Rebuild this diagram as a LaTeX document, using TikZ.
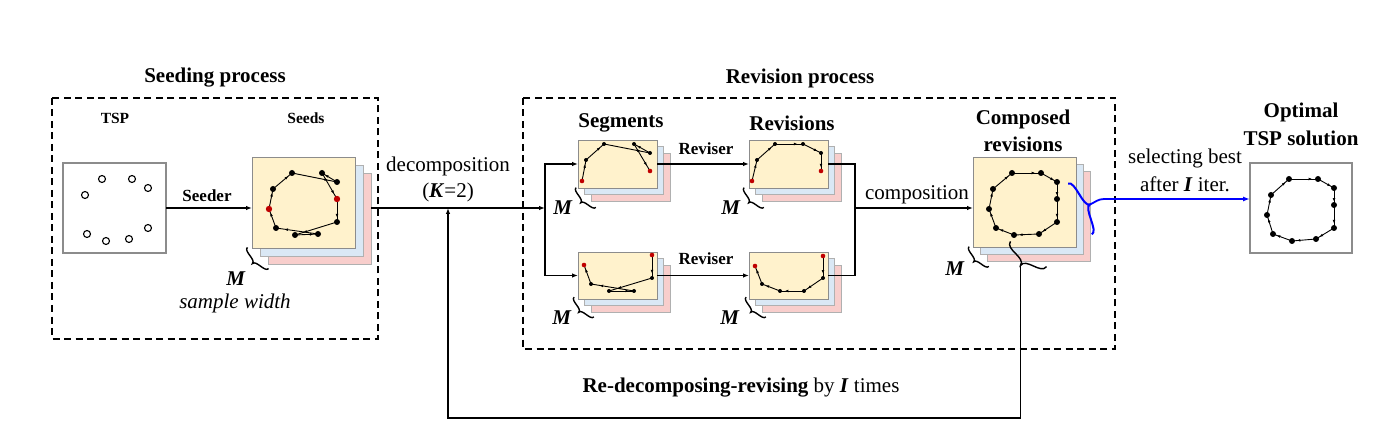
\documentclass[tikz,border=0pt]{standalone}
\usepackage{fontspec}
\setmainfont{Liberation Serif}
\usetikzlibrary{arrows.meta,decorations.markings}
\definecolor{yelc}{HTML}{FFF2CC}
\definecolor{bluec}{HTML}{DAE8F5}
\definecolor{pinkc}{HTML}{F8CECC}
\definecolor{redc}{HTML}{C00000}
\definecolor{framec}{HTML}{8C8C8C}
\definecolor{backframe}{HTML}{B0B0B0}
\tikzset{
 dbox/.style={draw=black, line width=1.6pt, dash pattern=on 7pt off 4.5pt},
 sbox/.style={draw=#1, line width=0.9pt, inner sep=0pt, outer sep=0pt, rectangle},
 wbox/.style={draw=framec, line width=1.1pt, fill=white, inner sep=0pt, outer sep=0pt, rectangle},
 arr/.style={line width=1.1pt, -{Latex[length=6pt,width=4.5pt]}},
 ln/.style={line width=1.1pt},
 te/.style={line width=0.9pt, postaction={decorate, decoration={markings, mark=at position 0.8 with {\arrow{Latex[length=3.5pt,width=2.8pt]}}}}},
 ttl/.style={font=\fontsize{21}{24}\selectfont\bfseries, inner sep=0pt},
 txt/.style={font=\fontsize{21}{24}\selectfont, inner sep=0pt},
 smb/.style={font=\fontsize{15.5}{18}\selectfont\bfseries, inner sep=0pt},
 mdb/.style={font=\fontsize{17}{20}\selectfont\bfseries, inner sep=0pt},
}
\newcommand\stackbox[6]{%
 \node[sbox=backframe, fill=pinkc, minimum width=#4pt, minimum height=#5pt] (#1p) at ({#2+2*#6+#4/2},{#3+2*#6+#5/2}) {};
 \node[sbox=backframe, fill=bluec, minimum width=#4pt, minimum height=#5pt] (#1b) at ({#2+#6+#4/2},{#3+#6+#5/2}) {};
 \node[sbox=framec, fill=yelc, minimum width=#4pt, minimum height=#5pt] (#1) at ({#2+#4/2},{#3+#5/2}) {};
}
% curly brace: [style] centre x, centre y, rotation, half length, amplitude
\newcommand\curlyb[6][line width=1.4pt]{%
 \begin{scope}[shift={(#2,#3)},x=1pt,y=1pt,rotate=#4]
 \draw[#1] (0,#5) .. controls ({-0.7*#6},#5) and ({-0.3*#6},0) .. ({-#6},0)
   .. controls ({-0.3*#6},0) and ({-0.7*#6},-#5) .. (0,-#5);
 \end{scope}}
\newcommand\bd[1]{\fill #1 circle (3pt);}
\newcommand\sd[1]{\fill #1 circle (2pt);}
\newcommand\rd[1]{\fill[redc] #1 circle (2.3pt);}
\newcommand\rbd[1]{\fill[redc] #1 circle (3.2pt);}
\begin{document}
\begin{tikzpicture}[x=1pt,y=-1pt]
\useasboundingbox (0,0) rectangle (1392,446);

% dashed frames
\draw[dbox] (52,98) rectangle (378,339);
\draw[dbox] (523,98) rectangle (1115,349);
\node[ttl] (tseed) at (215,78) {Seeding process};
\node[ttl] (trev) at (800,78) {Revision process};

% TSP
\node[smb] (ttsp) at (115,118) {TSP};
\node[smb] (tseeds) at (306,118) {Seeds};
\node[wbox, minimum width=103pt, minimum height=90pt] (tsp) at (114.5,208) {};
\foreach \p in {(102,179),(132,179),(148,188),(85,195),(87,234),(106,241),(129,239),(148,228)}
  {\draw[line width=1.1pt, fill=white] \p circle (3.5pt);}

% stacks
\stackbox{seeds}{252}{157}{103}{91}{8}
\stackbox{comp}{973}{157}{103}{90}{7}
\stackbox{segA}{578}{140}{79}{48}{6.5}
\stackbox{revA}{749}{140}{79}{48}{6.5}
\stackbox{segB}{578}{252}{79}{47}{6.5}
\stackbox{revB}{749}{252}{79}{47}{6.5}

% optimal
\node[wbox, minimum width=102pt, minimum height=90pt] (opt) at (1301,208) {};

% seeds tour
\draw[te] (273,189) -- (292,173);
\draw[te] (292,173) -- (337,182);
\draw[te] (337,182) -- (322,173);
\draw[te] (322,173) -- (337,199);
\draw[te] (337,199) -- (337,222);
\draw[te] (337,222) -- (295,235);
\draw[te] (295,235) -- (318,234);
\draw[te] (318,234) -- (276,228);
\draw[te] (276,228) -- (269,209);
\draw[te] (269,209) -- (273,189);
\foreach \p in {(273,189),(292,173),(337,182),(322,173),(337,222),(295,235),(318,234),(276,228)} {\bd{\p}}
\rbd{(337,199)}
\rbd{(269,209)}

% composed tour
\draw[te] (993,189) -- (1012,173);
\draw[te] (1012,173) -- (1041,173);
\draw[te] (1041,173) -- (1057,182);
\draw[te] (1057,182) -- (1057,199);
\draw[te] (1057,199) -- (1057,222);
\draw[te] (1057,222) -- (1039,234);
\draw[te] (1039,234) -- (1014,235);
\draw[te] (1014,235) -- (996,228);
\draw[te] (996,228) -- (989,209);
\draw[te] (989,209) -- (993,189);
\foreach \p in {(993,189),(1012,173),(1041,173),(1057,182),(1057,199),(1057,222),(1039,234),(1014,235),(996,228),(989,209)} {\bd{\p}}

% optimal tour
\draw[te] (1271,195) -- (1289,179);
\draw[te] (1289,179) -- (1318,179);
\draw[te] (1318,179) -- (1334,188);
\draw[te] (1334,188) -- (1334,205);
\draw[te] (1334,205) -- (1334,228);
\draw[te] (1334,228) -- (1316,239);
\draw[te] (1316,239) -- (1292,241);
\draw[te] (1292,241) -- (1273,234);
\draw[te] (1273,234) -- (1267,215);
\draw[te] (1267,215) -- (1271,195);
\foreach \p in {(1271,195),(1289,179),(1318,179),(1334,188),(1334,205),(1334,228),(1316,239),(1292,241),(1273,234),(1267,215)} {\bd{\p}}

% segment A
\draw[te] (582,181) -- (586,160);
\draw[te] (586,160) -- (604,144);
\draw[te] (604,144) -- (650,153);
\draw[te] (650,153) -- (634,144);
\draw[te] (634,144) -- (650,171);
\foreach \p in {(586,160),(604,144),(650,153),(634,144)} {\sd{\p}}
\rd{(582,181)}
\rd{(650,171)}
% revision A
\draw[te] (752,181) -- (757,160);
\draw[te] (757,160) -- (775,144);
\draw[te] (775,144) -- (803,144);
\draw[te] (803,144) -- (821,153);
\draw[te] (821,153) -- (821,171);
\foreach \p in {(757,160),(775,144),(803,144),(821,153)} {\sd{\p}}
\rd{(752,181)}
\rd{(821,171)}
% segment B
\draw[te] (652,255) -- (652,278);
\draw[te] (652,278) -- (609,291);
\draw[te] (609,291) -- (634,291);
\draw[te] (634,291) -- (591,284);
\draw[te] (591,284) -- (584,265);
\foreach \p in {(652,278),(609,291),(634,291),(591,284)} {\sd{\p}}
\rd{(652,255)}
\rd{(584,265)}
% revision B
\draw[te] (823,256) -- (823,278);
\draw[te] (823,278) -- (804,291);
\draw[te] (804,291) -- (780,291);
\draw[te] (780,291) -- (762,284);
\draw[te] (762,284) -- (755,266);
\foreach \p in {(823,278),(804,291),(780,291),(762,284)} {\sd{\p}}
\rd{(823,256)}
\rd{(755,266)}

% M braces
\curlyb{258}{258}{45}{15}{8}
\node[txt] (m1) at (236,279) {\textbf{\textit{M}}};
\node[txt] (sw) at (235,303) {\textit{sample width}};
\curlyb{586}{197.5}{45}{14}{7.5}
\node[txt] (m2) at (563,208) {\textbf{\textit{M}}};
\curlyb{754}{197.5}{45}{14}{7.5}
\node[txt] (m3) at (731,208) {\textbf{\textit{M}}};
\curlyb{584}{307}{45}{14}{7.5}
\node[txt] (m4) at (562,318) {\textbf{\textit{M}}};
\curlyb{756}{307}{45}{14}{7.5}
\node[txt] (m5) at (730,318) {\textbf{\textit{M}}};
\curlyb{979}{256.5}{45}{14}{7.5}
\node[txt] (m6) at (955,269) {\textbf{\textit{M}}};

% labels
\node[mdb] (lseeder) at (207,196) {Seeder};
\node[txt] (ldec) at (448,166) {decomposition};
\node[txt] (lk) at (448,192) {(\textbf{\textit{K}}=2)};
\node[ttl] (lseg) at (621,123) {Segments};
\node[ttl] (lrevs) at (792,123) {Revisions};
\node[mdb] (lr1) at (706,149) {Reviser};
\node[mdb] (lr2) at (706,259) {Reviser};
\node[txt] (lcomp) at (917,195) {composition};
\node[ttl] (lc1) at (1023,119) {Composed};
\node[ttl] (lc2) at (1023,144) {revisions};
\node[txt] (lsel) at (1185,158) {selecting best};
\node[txt] (laft) at (1185,184) {after \textbf{\textit{I}} iter.};
\node[ttl] (lo1) at (1301,112) {Optimal};
\node[ttl] (lo2) at (1301,138) {TSP solution};
\node[txt] (lre) at (741,388) {\textbf{Re-decomposing-revising} by \textbf{\textit{I}} times};

% connectors
\coordinate (sj) at (545,208);
\coordinate (cj) at (855,208);
\coordinate (fbin) at (448,208);
\draw[arr] (tsp.east) -- (seeds.west |- tsp.east);
\draw[arr] (seedsp.east |- sj) -- (sj);
\draw[arr] (sj) |- (segA.west);
\draw[arr] (sj) |- (segB.west);
\draw[arr] (segA.east) -- (revA.west);
\draw[arr] (segB.east) -- (revB.west);
\draw[ln] (revA.east) -| (cj) |- (revB.east);
\draw[arr] (cj) -- (cj -| comp.west);

% feedback
\curlyb{1028.5}{254}{55}{22}{14}
\coordinate (fbtop) at (1020.5,265.5);
\coordinate (fbbot) at (1020.5,418);
\draw[arr] (fbtop) -- (fbbot) -| (fbin);

% blue selection
\curlyb[line width=2pt, draw=blue]{1080}{209}{-155}{28}{11}
\coordinate (btip) at (1090,204.5);
\coordinate (bmid) at (1104,199);
\draw[line width=1.8pt, draw=blue, -{Latex[length=7pt,width=5pt]}] (btip) to[out=25,in=180] (bmid) -- (opt.west |- bmid);
\end{tikzpicture}
\end{document}
